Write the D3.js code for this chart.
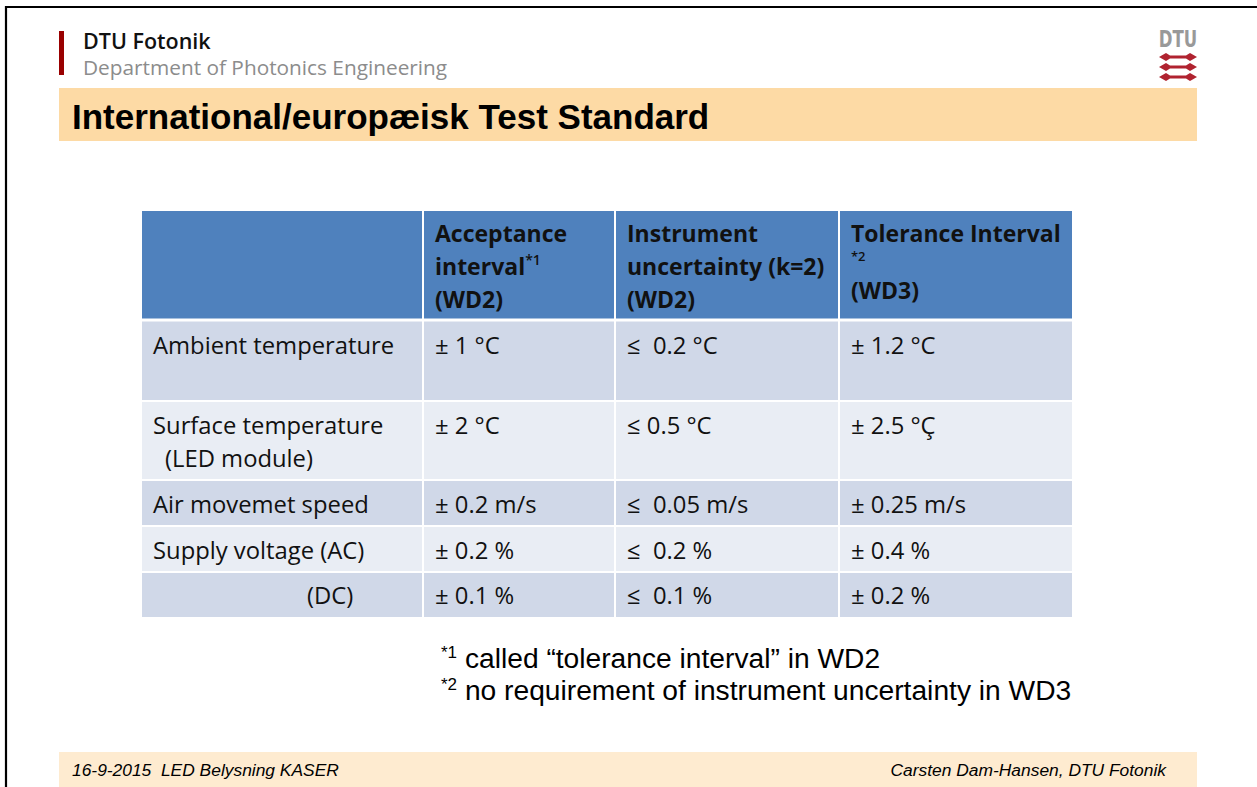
<!DOCTYPE html>
<html><head><meta charset="utf-8">
<script src="https://cdn.jsdelivr.net/npm/d3@7"></script>
<style>html,body{margin:0;padding:0;background:#fff;}svg{display:block;}</style>
</head><body>
<script>
// ---- data ----
const title = "International/europæisk Test Standard";
const orgName = "DTU Fotonik";
const orgDept = "Department of Photonics Engineering";
const columns = ["", "Acceptance interval", "Instrument uncertainty", "Tolerance Interval"];
const headerLines = [
  [],
  [{t:"Acceptance"}, {t:"interval", sup:"*1"}, {t:"(WD2)"}],
  [{t:"Instrument"}, {t:"uncertainty (k=2)"}, {t:"(WD2)"}],
  [{t:"Tolerance Interval"}, {t:"", sup:"*2"}, {t:"(WD3)"}]
];
const rowLabels = [["Ambient temperature"], ["Surface temperature", "(LED module)"], ["Air movemet speed"], ["Supply voltage (AC)"], ["(DC)"]];
const acceptance = ["± 1 °C", "± 2 °C", "± 0.2 m/s", "± 0.2 %", "± 0.1 %"];
const instrument = ["≤  0.2 °C", "≤ 0.5 °C", "≤  0.05 m/s", "≤  0.2 %", "≤  0.1 %"];
const tolerance = ["± 1.2 °C", "± 2.5 °Ç", "± 0.25 m/s", "± 0.4 %", "± 0.2 %"];
const footnotes = [{sup:"*1", t:" called “tolerance interval” in WD2"}, {sup:"*2", t:" no requirement of instrument uncertainty in WD3"}];
const footerLeft = "16-9-2015  LED Belysning KASER";
const footerRight = "Carsten Dam-Hansen, DTU Fotonik";

// ---- layout ----
const W = 1257, H = 787;
const colEdges = [141, 423, 615, 839, 1073];
const rowEdges = [210, 320, 401, 480, 526, 572, 618];

const svg = d3.select("body").append("svg").attr("width", W).attr("height", H);

// frame
svg.append("path").attr("d", `M6,${H} V7 H${W}`).attr("fill","none").attr("stroke","#000").attr("stroke-width",2.2);

// header
svg.append("rect").attr("x",59).attr("y",31).attr("width",5).attr("height",44).attr("fill","#990000");
svg.append("text").attr("x",83).attr("y",49).text(orgName)
  .attr("font-family","'Open Sans', sans-serif").attr("font-weight",600).attr("font-size",21.5).attr("fill","#111");
svg.append("text").attr("x",83).attr("y",75).text(orgDept)
  .attr("font-family","'Open Sans', sans-serif").attr("font-size",20.8).attr("fill","#8c8c8c");

// DTU logo
const logo = svg.append("g").attr("transform","translate(1178,0)");
logo.append("text").attr("x",0).attr("y",47).attr("text-anchor","middle").text("DTU")
  .attr("font-family","'DejaVu Sans', sans-serif").attr("font-weight","bold")
  .attr("font-size",23).attr("fill","#999").attr("transform","scale(0.72,1)");
[57, 67, 77].forEach(y => {
  logo.append("path").attr("d", `M-19,${y} L-12,${y-4} L-8,${y-1.5} L8,${y-1.5} L12,${y-4} L19,${y} L12,${y+4} L8,${y+1.5} L-8,${y+1.5} L-12,${y+4} Z`)
    .attr("fill","#b02330");
});

// title banner
svg.append("rect").attr("x",59).attr("y",88).attr("width",1138).attr("height",53).attr("fill","#FDDAA5");
svg.append("text").attr("x",72).attr("y",129).text(title)
  .attr("font-family","'Liberation Sans', Arial, sans-serif").attr("font-weight","bold").attr("font-size",35).attr("fill","#000");

// scales
const xCol = d3.scaleOrdinal().domain(d3.range(4)).range(colEdges.slice(0,4));
const wCol = d3.scaleOrdinal().domain(d3.range(4)).range(d3.range(4).map(i => colEdges[i+1]-colEdges[i]));
const yRow = d3.scaleOrdinal().domain(d3.range(6)).range(rowEdges.slice(0,6));
const hRow = d3.scaleOrdinal().domain(d3.range(6)).range(d3.range(6).map(i => rowEdges[i+1]-rowEdges[i]));

const cellFont = "'Open Sans', 'Lato', sans-serif";
const table = svg.append("g");

// header cells
table.selectAll("rect.h").data(d3.range(4)).join("rect")
  .attr("x", i => xCol(i)).attr("y", yRow(0)).attr("width", i => wCol(i)).attr("height", hRow(0))
  .attr("fill","#4F81BD").attr("stroke","#fff").attr("stroke-width",2);

// body cells
const bodyCells = [];
rowLabels.forEach((lab, r) => {
  for (let c = 0; c < 4; c++) bodyCells.push({r: r+1, c});
});
table.selectAll("rect.b").data(bodyCells).join("rect")
  .attr("x", d => xCol(d.c)).attr("y", d => yRow(d.r)).attr("width", d => wCol(d.c)).attr("height", d => hRow(d.r))
  .attr("fill", d => d.r % 2 === 1 ? "#D0D8E8" : "#E9EDF4").attr("stroke","#fff").attr("stroke-width",2);
table.append("line").attr("x1",colEdges[0]).attr("x2",colEdges[4]).attr("y1",rowEdges[1]).attr("y2",rowEdges[1])
  .attr("stroke","#fff").attr("stroke-width",3);

// header text
const hdrBase = [242, 275, 308];
headerLines.forEach((lines, c) => {
  lines.forEach((ln, k) => {
    let y = hdrBase[k];
    if (c === 3 && k === 1) y = 263;
    if (c === 3 && k === 2) y = 299;
    const t = table.append("text").attr("x", xCol(c)+12).attr("y", y)
      .attr("font-family", cellFont).attr("font-weight", 700).attr("font-size", 23).attr("fill","#111");
    t.append("tspan").text(ln.t);
    if (ln.sup) t.append("tspan").attr("font-size", ln.t ? 14 : 13).attr("font-weight", 600).attr("dy", ln.t ? -10 : -2).text(ln.sup);
  });
});

// body text
const bodyBase = [354, 434, 513, 559, 604];
const cols = [null, acceptance, instrument, tolerance];
rowLabels.forEach((lab, r) => {
  lab.forEach((ln, k) => {
    let x = xCol(0) + 12;
    if (k === 1) x = xCol(0) + 24;
    if (r === 4) x = 307;
    table.append("text").attr("x", x).attr("y", bodyBase[r] + k*33).text(ln)
      .attr("font-family", cellFont).attr("font-size", 23.8).attr("fill","#111");
  });
  for (let c = 1; c < 4; c++) {
    table.append("text").attr("x", xCol(c)+12).attr("y", bodyBase[r]).text(cols[c][r])
      .attr("font-family", cellFont).attr("font-size", 23.8).attr("fill","#111")
      .style("white-space","pre");
  }
});

// footnotes
footnotes.forEach((f, i) => {
  const t = svg.append("text").attr("x", 441).attr("y", 668 + i*32)
    .attr("font-family","'Liberation Sans', Arial, sans-serif").attr("font-size", 28.2).attr("fill","#000")
    .style("white-space","pre");
  t.append("tspan").attr("font-size", 17).attr("dy", -10).text(f.sup);
  t.append("tspan").attr("dy", 10).text(f.t);
});

// footer
svg.append("rect").attr("x",59).attr("y",752).attr("width",1138).attr("height",35).attr("fill","#FEEBD0");
svg.append("text").attr("x",72).attr("y",776).text(footerLeft).style("white-space","pre")
  .attr("font-family","'Liberation Sans', Arial, sans-serif").attr("font-style","italic").attr("font-size",17.4).attr("fill","#000");
svg.append("text").attr("x",1166).attr("y",776).attr("text-anchor","end").text(footerRight)
  .attr("font-family","'Liberation Sans', Arial, sans-serif").attr("font-style","italic").attr("font-size",17.4).attr("fill","#000");
</script>
</body></html>
